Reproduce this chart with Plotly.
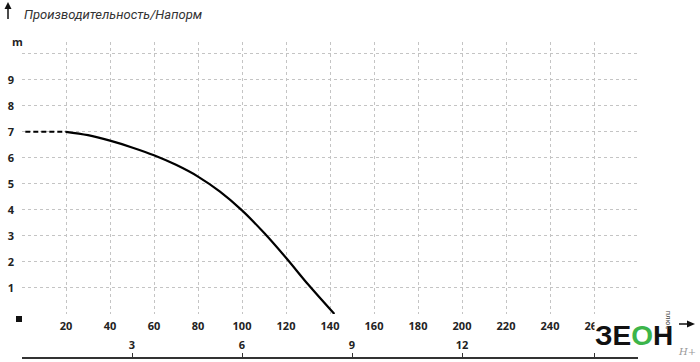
import plotly.graph_objects as go

# Data (flow in L/min, head in m)
q_solid = [20, 30, 40, 50, 60, 70, 80, 90, 100, 110, 120, 130, 142]
h_solid = [7.0, 6.87, 6.66, 6.40, 6.10, 5.73, 5.28, 4.70, 3.98, 3.12, 2.16, 1.14, 0.0]
q_dash = [1.5, 10, 20]
h_dash = [7.0, 7.01, 7.0]

x_ticks = [0, 20, 40, 60, 80, 100, 120, 140, 160, 180, 200, 220, 240, 260, 280]
x_text = [""] + [str(v) for v in x_ticks[1:-1]] + [""]
y_ticks = [0, 1, 2, 3, 4, 5, 6, 7, 8, 9, 10, 10.45]
y_text = [""] + [str(v) for v in range(1, 10)] + ["", ""]
m3_ticks = [3, 6, 9, 12, 15.6]
m3_text = ["3", "6", "9", "12", ""]

X_MAX = 280
Y_MAX = 10.45

tick_font = dict(family="Open Sans", size=11, color="#222", weight="bold")
grid_col = "#c4c4c4"

fig = go.Figure()
fig.add_trace(go.Scatter(x=q_dash, y=h_dash, mode="lines",
                         line=dict(color="black", width=2, dash="5px,3px"),
                         showlegend=False, hoverinfo="skip", cliponaxis=False))
fig.add_trace(go.Scatter(x=q_solid, y=h_solid, mode="lines", line_shape="spline",
                         line=dict(color="black", width=2.2, smoothing=1.0),
                         showlegend=False, hoverinfo="skip", cliponaxis=False))
# invisible trace for the m3/h axis
fig.add_trace(go.Scatter(x=[0], y=[0], xaxis="x2", mode="markers",
                         marker=dict(opacity=0), showlegend=False, hoverinfo="skip"))

W, H = 700, 362
mt, mb, ml, mr = 42, 2, 22, 62
plot_h = H - mt - mb
y_bottom_px = 314
dom0 = (H - mb - y_bottom_px) / plot_h

fig.update_layout(
    width=W, height=H,
    margin=dict(l=ml, r=mr, t=mt, b=mb),
    paper_bgcolor="white", plot_bgcolor="white",
    xaxis=dict(range=[0, X_MAX], tickvals=x_ticks, ticktext=x_text,
               showgrid=True, gridcolor=grid_col, griddash="dot", gridwidth=1,
               zeroline=False, showline=False, ticks="", tickfont=tick_font,
               ticklabelstandoff=4, anchor="y", fixedrange=True),
    yaxis=dict(range=[0, Y_MAX], tickvals=y_ticks, ticktext=y_text, domain=[dom0, 1],
               showgrid=True, gridcolor=grid_col, griddash="dot", gridwidth=1,
               zeroline=False, showline=False, ticks="", tickfont=tick_font,
               ticklabelstandoff=7, fixedrange=True),
    xaxis2=dict(range=[0, X_MAX * 0.06], overlaying="x", anchor="free",
                position=(H - mb - 358) / plot_h, side="top",
                tickvals=m3_ticks, ticktext=m3_text, showgrid=False, zeroline=False,
                showline=True, linecolor="#333", linewidth=1.5,
                ticks="outside", ticklen=4, tickcolor="#333", tickwidth=1,
                tickfont=tick_font, ticklabelstandoff=0, fixedrange=True),
)

def px2paper(px, py):
    return (px - ml) / (W - ml - mr), (H - mb - py) / plot_h

def pline(x0, y0, x1, y1, w=1.5):
    a, b = px2paper(x0, y0)
    c, d = px2paper(x1, y1)
    fig.add_shape(type="line", xref="paper", yref="paper", x0=a, y0=b, x1=c, y1=d,
                  line=dict(color="#111", width=w))

def ppoly(pts):
    conv = [px2paper(x, y) for x, y in pts]
    path = "M " + " L ".join(f"{x:.5f},{y:.5f}" for x, y in conv) + " Z"
    fig.add_shape(type="path", xref="paper", yref="paper", path=path,
                  fillcolor="#111", line=dict(width=0))

# title
tx, ty = px2paper(22, 14)
fig.add_annotation(x=tx, y=ty, xref="paper", yref="paper", xanchor="left", yanchor="middle",
                   text="<i>Производительность/Напорм</i>", showarrow=False,
                   font=dict(family="Roboto", size=13, color="#333"))
# up arrow
pline(8, 19, 8, 8)
ppoly([(4.5, 9), (8, 2), (11.5, 9)])
# "m" label
mx, my = px2paper(10, 32)
fig.add_annotation(x=mx, y=my, xref="paper", yref="paper", text="m", showarrow=False,
                   font=tick_font)
# square at origin
sx0, sy0 = px2paper(16, 316)
sx1, sy1 = px2paper(22, 322)
fig.add_shape(type="rect", xref="paper", yref="paper", x0=sx0, y0=sy0, x1=sx1, y1=sy1,
              fillcolor="#111", line=dict(width=0))
# right arrow
pline(679, 324, 689, 324)
ppoly([(687, 320.5), (695, 324), (687, 327.5)])
# logo
lx, ly = px2paper(594, 335)
fig.add_annotation(x=lx, y=ly, xref="paper", yref="paper", xanchor="left", yanchor="middle",
                   text="<b>ЗЕ<span style='color:#3cb54a'>О</span>Н</b>", showarrow=False,
                   bgcolor="white", borderpad=0,
                   font=dict(family="Liberation Sans", size=28, color="#111"))
vx, vy = px2paper(674, 331)
fig.add_annotation(x=vx, y=vy, xref="paper", yref="paper", text="плюс", textangle=90,
                   showarrow=False, font=dict(family="DejaVu Sans", size=7, color="#444"))
hx, hy = px2paper(698, 351)
fig.add_annotation(x=hx, y=hy, xref="paper", yref="paper", xanchor="right", yanchor="middle",
                   text="<i>H+</i>", showarrow=False,
                   font=dict(family="DejaVu Serif", size=10, color="#999"))

fig.write_html("out.html")
